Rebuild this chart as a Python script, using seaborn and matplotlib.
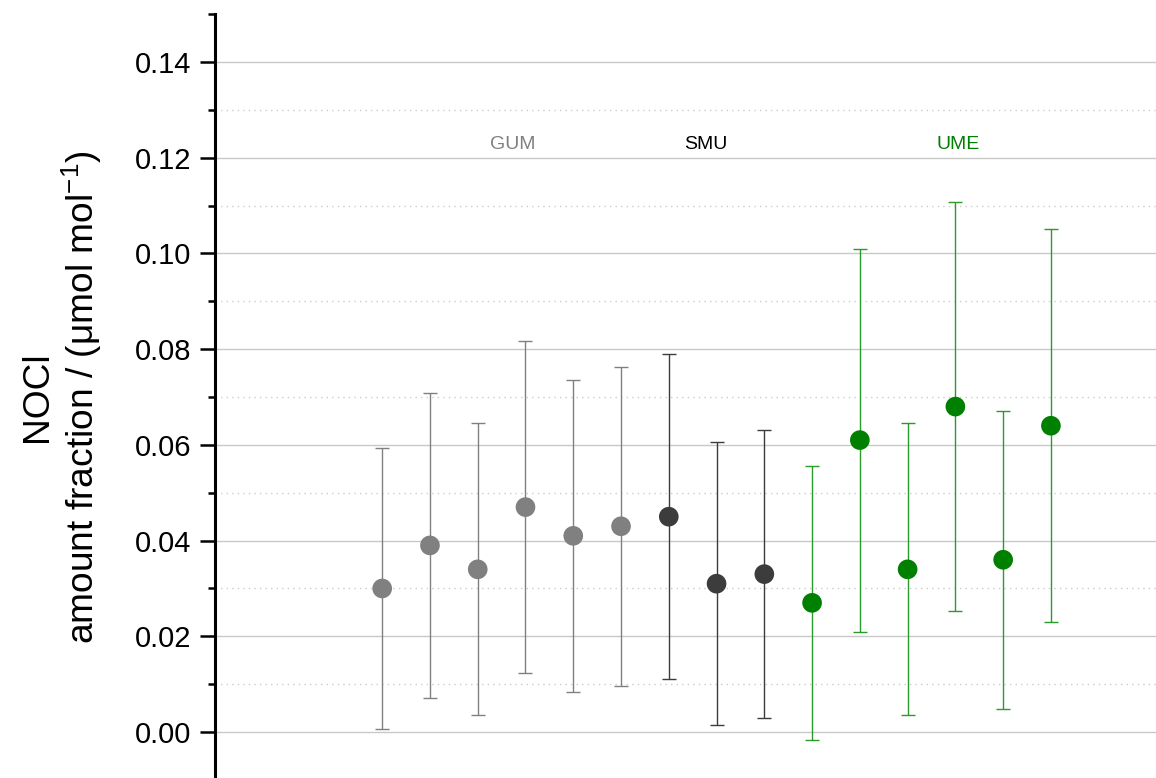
import numpy as np
import pandas as pd
import matplotlib
matplotlib.use("Agg")
import matplotlib.pyplot as plt
import seaborn as sns

# Reported NOCl amount fractions (µmol/mol) and expanded uncertainties
groups = ["GUM"] * 6 + ["SMU"] * 3 + ["UME"] * 6
values = [0.030, 0.039, 0.034, 0.047, 0.041, 0.043,
          0.045, 0.031, 0.033,
          0.027, 0.061, 0.034, 0.068, 0.036, 0.064]
uncert = [0.0293, 0.0319, 0.0305, 0.0347, 0.0326, 0.0333,
          0.0339, 0.0296, 0.0301,
          0.0286, 0.0400, 0.0305, 0.0428, 0.0311, 0.0411]
group_labels = ["GUM", "SMU", "UME"]
label_x = [2.74, 6.78, 12.05]

marker_colors = {"GUM": "#808080", "SMU": "#3c3c3c", "UME": "#008000"}
bar_colors = {"GUM": "#808080", "SMU": "#3c3c3c", "UME": "#2a9a2a"}
text_colors = {"GUM": "#808080", "SMU": "#000000", "UME": "#008000"}

df = pd.DataFrame({"idx": np.arange(len(values)), "value": values,
                   "u": uncert, "group": groups})

sns.set_style("white")
plt.rcParams["font.family"] = ["Liberation Sans", "DejaVu Sans"]
plt.rcParams["mathtext.fontset"] = "custom"
plt.rcParams["mathtext.rm"] = "Liberation Sans"
plt.rcParams["mathtext.it"] = "Liberation Sans:italic"
plt.rcParams["text.color"] = "black"
plt.rcParams["axes.labelcolor"] = "black"
plt.rcParams["ytick.color"] = "black"

fig = plt.figure(figsize=(11.56, 7.78), dpi=100)
ax = fig.add_axes([0.186, -0.0025, 0.814, 0.9844])

xlim = (-3.5, 16.2)
ylim = (-0.01, 0.15)
major_ticks = np.round(np.arange(0, 0.141, 0.02), 3)
minor_ticks = np.round(np.arange(-0.01, 0.151, 0.02), 3)

# dotted minor grid only between the axis limits
inner_minor = [m for m in minor_ticks if ylim[0] < m < ylim[1]]
ax.hlines(inner_minor, *xlim, colors="#cccccc", lw=1.0,
          linestyles=(0, (1, 3)), zorder=0.5)

for g in group_labels:
    sub = df[df["group"] == g]
    ax.errorbar(sub["idx"], sub["value"], yerr=sub["u"], fmt="none",
                ecolor=bar_colors[g], elinewidth=1.0, capsize=5,
                capthick=1.0, zorder=2)

sns.scatterplot(data=df, x="idx", y="value", hue="group",
                palette=marker_colors, s=200, edgecolor="none",
                legend=False, ax=ax, zorder=3)

for g, xl in zip(group_labels, label_x):
    ax.text(xl, 0.1227, g, color=text_colors[g], fontsize=14,
            ha="center", va="center")

ax.set_xlim(*xlim)
ax.set_ylim(*ylim)
ax.set_yticks(major_ticks)
ax.set_yticklabels([f"{v:.2f}" for v in major_ticks])
ax.set_yticks(minor_ticks, minor=True)

ax.grid(True, which="major", axis="y", color="#c8c8c8", lw=1.0, ls="-")
ax.grid(False, which="minor")
ax.set_axisbelow(True)

for s in ["top", "right", "bottom"]:
    ax.spines[s].set_visible(False)
ax.spines["left"].set_linewidth(2.2)
ax.spines["left"].set_color("black")

ax.tick_params(axis="y", which="major", direction="out", length=11,
               width=1.8, labelsize=21, pad=6, left=True, colors="black")
ax.tick_params(axis="y", which="minor", direction="out", length=5,
               width=1.8, left=True, colors="black")
ax.tick_params(axis="x", which="both", bottom=False, labelbottom=False)
ax.set_xlabel("")

ax.set_ylabel("NOCl\namount fraction / (μmol mol$^{-1}$)", fontsize=26.7,
              linespacing=1.15, labelpad=22)

fig.savefig("out.png", dpi=100)
